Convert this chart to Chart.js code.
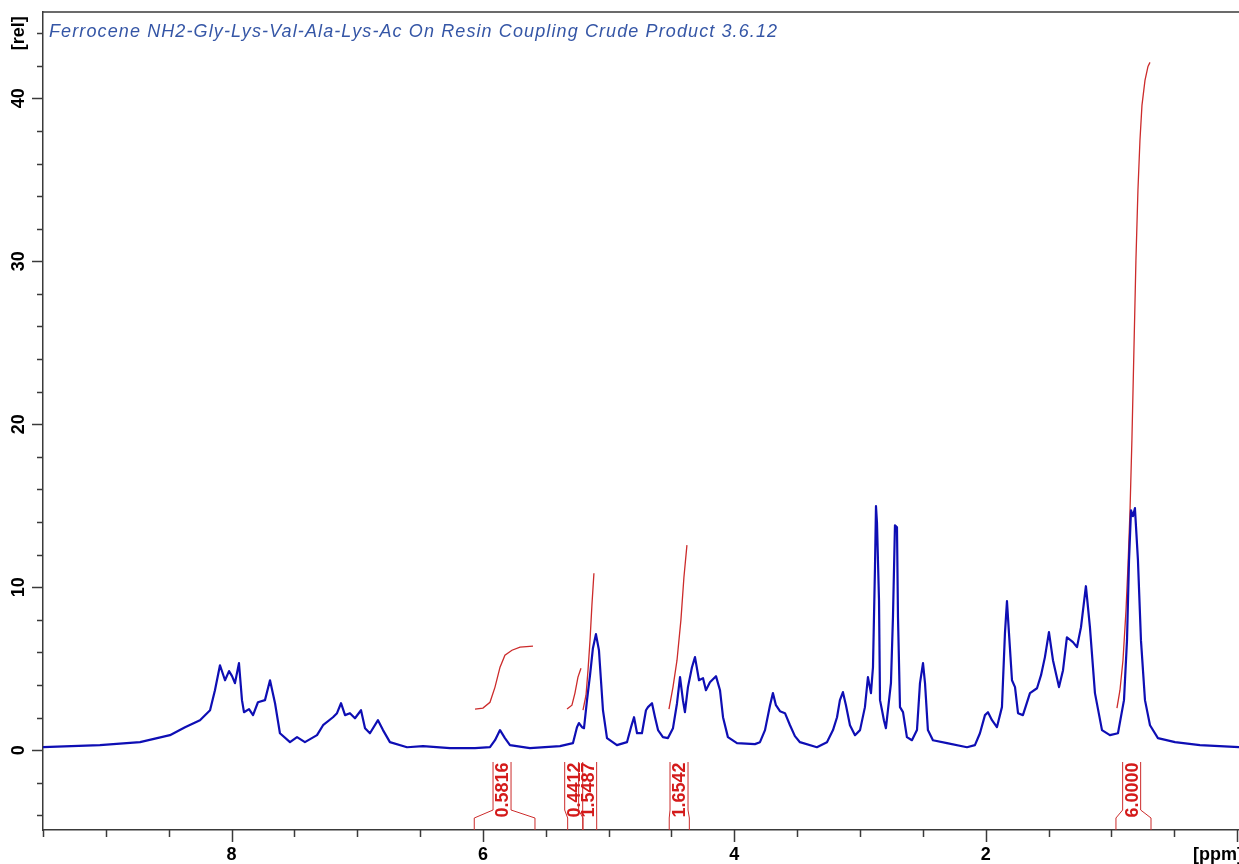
<!DOCTYPE html>
<html><head><meta charset="utf-8">
<script src="https://cdn.jsdelivr.net/npm/chart.js@4.4.0/dist/chart.umd.min.js"></script>
<style>html,body{margin:0;padding:0;background:#fff;} canvas{display:block;}</style>
</head><body>
<canvas id="c" width="1239" height="864"></canvas>
<script>
const titleText = 'Ferrocene NH2-Gly-Lys-Val-Ala-Lys-Ac On Resin Coupling Crude Product 3.6.12';
const xTickLabels = [8, 6, 4, 2];
const yTickLabels = [0, 10, 20, 30, 40];
const xUnit = '[ppm]';
const yUnit = '[rel]';

// 1H spectrum (ppm, relative intensity)
const specPpm = [9.500,9.047,8.728,8.490,8.370,8.251,8.171,8.132,8.092,8.052,8.020,7.996,7.973,7.941,7.917,7.901,7.861,7.829,7.790,7.734,7.694,7.654,7.615,7.535,7.479,7.416,7.320,7.272,7.193,7.161,7.129,7.097,7.058,7.018,6.970,6.938,6.899,6.835,6.795,6.740,6.604,6.477,6.262,6.063,5.944,5.904,5.864,5.825,5.785,5.626,5.387,5.284,5.252,5.236,5.212,5.196,5.172,5.148,5.125,5.101,5.077,5.061,5.045,5.013,4.934,4.854,4.822,4.798,4.774,4.735,4.703,4.687,4.655,4.631,4.607,4.568,4.528,4.488,4.456,4.432,4.409,4.393,4.369,4.337,4.313,4.281,4.249,4.226,4.194,4.146,4.114,4.090,4.051,3.979,3.836,3.796,3.756,3.716,3.693,3.669,3.637,3.597,3.557,3.518,3.478,3.343,3.263,3.215,3.183,3.160,3.136,3.112,3.080,3.040,3.000,2.961,2.937,2.913,2.897,2.881,2.873,2.865,2.849,2.841,2.825,2.810,2.794,2.778,2.754,2.738,2.722,2.706,2.698,2.682,2.658,2.627,2.587,2.547,2.523,2.499,2.483,2.460,2.420,2.308,2.149,2.086,2.046,2.006,1.982,1.950,1.911,1.871,1.847,1.831,1.815,1.791,1.767,1.743,1.704,1.648,1.592,1.560,1.529,1.497,1.465,1.417,1.385,1.354,1.306,1.274,1.242,1.203,1.171,1.131,1.075,1.012,0.948,0.900,0.876,0.860,0.844,0.829,0.813,0.789,0.765,0.733,0.693,0.630,0.494,0.296,-0.015];
const specVal = [0.18,0.31,0.49,0.92,1.41,1.84,2.45,3.68,5.21,4.29,4.85,4.54,4.11,5.34,3.07,2.33,2.52,2.15,2.94,3.07,4.29,2.88,1.04,0.49,0.80,0.49,0.92,1.53,2.02,2.27,2.88,2.15,2.27,1.96,2.45,1.35,1.04,1.84,1.23,0.49,0.18,0.25,0.12,0.12,0.18,0.61,1.23,0.74,0.31,0.12,0.25,0.43,1.41,1.66,1.41,1.35,3.07,4.60,6.26,7.12,6.13,4.29,2.45,0.74,0.31,0.49,1.41,2.02,1.04,1.04,2.45,2.64,2.88,2.02,1.23,0.80,0.74,1.35,2.88,4.48,3.07,2.33,3.87,5.09,5.71,4.29,4.42,3.68,4.17,4.54,3.68,2.02,0.80,0.43,0.37,0.49,1.23,2.76,3.50,2.76,2.39,2.27,1.53,0.86,0.49,0.18,0.49,1.23,2.02,3.07,3.56,2.76,1.53,0.92,1.23,2.64,4.48,3.50,5.09,11.23,14.97,13.93,9.20,3.07,2.45,1.84,1.35,2.45,4.11,8.16,13.80,13.68,8.16,2.64,2.33,0.80,0.61,1.23,4.11,5.34,4.11,1.23,0.61,0.43,0.18,0.31,1.04,2.15,2.33,1.84,1.41,2.64,7.18,9.14,7.18,4.29,3.87,2.27,2.15,3.50,3.80,4.60,5.71,7.24,5.52,3.87,4.91,6.93,6.63,6.32,7.55,10.06,7.55,3.50,1.23,0.92,1.04,3.07,6.75,11.66,14.72,14.36,14.85,11.66,6.75,3.07,1.53,0.74,0.49,0.31,0.18];

// integral curves
const int1Ppm = [6.063,6.000,5.944,5.904,5.864,5.825,5.769,5.705,5.602];
const int1Val = [2.52,2.58,2.94,3.87,5.09,5.83,6.13,6.32,6.38];
const int2Ppm = [5.331,5.292,5.268,5.244,5.220];
const int2Val = [2.52,2.76,3.50,4.48,5.03];
const int3Ppm = [5.204,5.180,5.164,5.148,5.133,5.117];
const int3Val = [2.45,3.37,4.91,6.75,8.90,10.86];
const int4Ppm = [4.520,4.488,4.456,4.425,4.401,4.377];
const int4Val = [2.52,3.87,5.52,7.98,10.61,12.58];
const int5Ppm = [0.956,0.932,0.908,0.884,0.868,0.852,0.837,0.821,0.805,0.789,0.773,0.757,0.733,0.709,0.693];
const int5Val = [2.58,3.68,5.52,8.59,11.35,14.72,19.02,24.54,30.06,34.36,37.42,39.57,41.10,41.96,42.21];

// integral labels and regions
const integralLabels = ['0.5816','0.4412','1.5487','1.6542','6.0000'];
const integralCenter = [5.848,5.278,5.167,4.440,0.839];
const integralFrom = [6.069,5.326,5.204,4.518,0.964];
const integralTo = [5.586,5.206,5.095,4.358,0.685];

const xy = (xs, ys) => xs.map((x, i) => ({x: x, y: ys[i]}));
const RED = '#cc2b2b';
const intDs = (xs, ys) => ({data: xy(xs, ys), borderColor: RED, borderWidth: 1.3, pointRadius: 0, tension: 0});

const deco = {
  id: 'deco',
  afterDraw(chart) {
    const ctx = chart.ctx, ca = chart.chartArea;
    const xs = chart.scales.x, ys = chart.scales.y;
    ctx.save();
    // top frame line
    ctx.strokeStyle = '#3a3a3a'; ctx.lineWidth = 1.5;
    ctx.beginPath(); ctx.moveTo(ca.left, ca.top); ctx.lineTo(ca.right, ca.top); ctx.stroke();
    // y ticks
    ctx.lineWidth = 1.5;
    for (let v = -4; v <= 44; v += 2) {
      const p = Math.round(ys.getPixelForValue(v)) + 0.5;
      const len = (v % 10 === 0) ? 11 : 6;
      ctx.beginPath(); ctx.moveTo(ca.left - len, p); ctx.lineTo(ca.left, p); ctx.stroke();
    }
    // x ticks
    for (let k = 0; k <= 19; k++) {
      const v = k * 0.5;
      const p = Math.round(xs.getPixelForValue(v)) + 0.5;
      const len = (v % 2 === 0) ? 12 : 7;
      ctx.beginPath(); ctx.moveTo(p, ca.bottom); ctx.lineTo(p, ca.bottom + len); ctx.stroke();
    }
    // tick labels
    ctx.fillStyle = '#000';
    ctx.font = 'bold 18px "Liberation Sans", Arial, sans-serif';
    ctx.textAlign = 'center'; ctx.textBaseline = 'middle';
    xTickLabels.forEach(v => ctx.fillText(String(v), xs.getPixelForValue(v), ca.bottom + 25));
    ctx.textAlign = 'left';
    ctx.fillText(xUnit, xs.getPixelForValue(0) - 44, ca.bottom + 25);
    const yLab = (txt, py) => {
      ctx.save(); ctx.translate(19, py); ctx.rotate(-Math.PI / 2);
      ctx.textAlign = 'center'; ctx.textBaseline = 'middle';
      ctx.fillText(txt, 0, 0); ctx.restore();
    };
    yTickLabels.forEach(v => yLab(String(v), ys.getPixelForValue(v)));
    yLab(yUnit, ys.getPixelForValue(44));
    // title
    ctx.font = 'italic 18px "Liberation Sans", Arial, sans-serif';
    ctx.fillStyle = '#3556a6';
    ctx.textAlign = 'left'; ctx.textBaseline = 'alphabetic';
    const w = ctx.measureText(titleText).width;
    const target = 728;
    try { ctx.letterSpacing = ((target - w) / (titleText.length - 1)).toFixed(2) + 'px'; } catch (e) {}
    ctx.fillText(titleText, ca.left + 6, ca.top + 25);
    try { ctx.letterSpacing = '0px'; } catch (e) {}
    // integral brackets
    ctx.strokeStyle = RED; ctx.lineWidth = 1;
    ctx.fillStyle = '#d41a1a';
    ctx.font = 'bold 18px "Liberation Sans", Arial, sans-serif';
    const b = ca.bottom;
    integralLabels.forEach((lab, i) => {
      const c = xs.getPixelForValue(integralCenter[i]);
      const a = xs.getPixelForValue(integralFrom[i]);
      const z = xs.getPixelForValue(integralTo[i]);
      ctx.beginPath();
      ctx.moveTo(c - 9, b - 68); ctx.lineTo(c - 9, b - 20); ctx.lineTo(a, b - 12); ctx.lineTo(a, b);
      ctx.moveTo(c + 9, b - 68); ctx.lineTo(c + 9, b - 20); ctx.lineTo(z, b - 12); ctx.lineTo(z, b);
      ctx.stroke();
      ctx.save(); ctx.translate(c, b - 40); ctx.rotate(-Math.PI / 2);
      ctx.textAlign = 'center'; ctx.textBaseline = 'middle';
      ctx.fillText(lab, 0, 1); ctx.restore();
    });
    ctx.restore();
  }
};

new Chart(document.getElementById('c'), {
  type: 'line',
  data: {
    datasets: [
      {data: xy(specPpm, specVal), borderColor: '#0e0eb4', borderWidth: 2.2, pointRadius: 0, tension: 0, borderJoinStyle: 'round'},
      intDs(int1Ppm, int1Val), intDs(int2Ppm, int2Val), intDs(int3Ppm, int3Val),
      intDs(int4Ppm, int4Val), intDs(int5Ppm, int5Val)
    ]
  },
  options: {
    responsive: false, animation: false, devicePixelRatio: 1,
    layout: {padding: {top: 12, left: 0, right: 0, bottom: 0}},
    plugins: {legend: {display: false}, tooltip: {enabled: false}},
    scales: {
      x: {type: 'linear', reverse: true, min: -0.015, max: 9.5,
          grid: {display: false}, ticks: {display: false},
          border: {display: true, color: '#3a3a3a', width: 1.5},
          afterFit: s => { s.height = 34; }},
      y: {type: 'linear', min: -4.9, max: 45.3,
          grid: {display: false}, ticks: {display: false},
          border: {display: true, color: '#3a3a3a', width: 1.5},
          afterFit: s => { s.width = 43; }}
    }
  },
  plugins: [deco]
});
</script>
</body></html>
